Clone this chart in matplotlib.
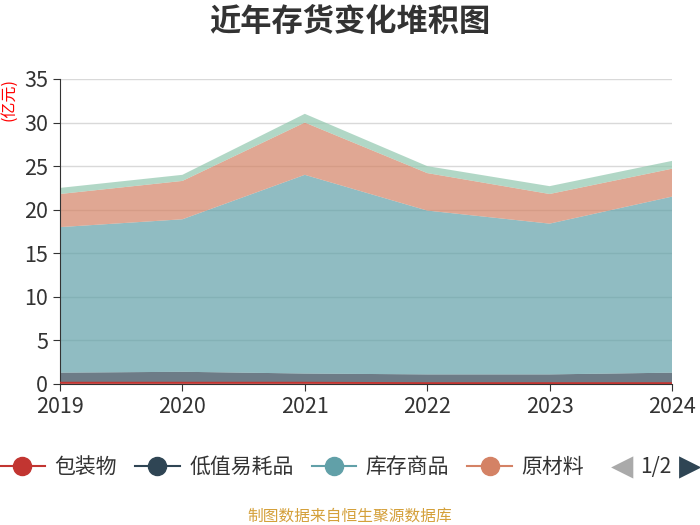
import matplotlib.pyplot as plt
from matplotlib.lines import Line2D

plt.rcParams['font.family'] = ['Noto Sans CJK SC', 'DejaVu Sans']

years = ['2019', '2020', '2021', '2022', '2023', '2024']
baozhuangwu = [0.15, 0.15, 0.15, 0.1, 0.1, 0.1]
dizhi = [1.15, 1.25, 1.05, 1.0, 1.0, 1.2]
kucun = [16.7, 17.5, 22.8, 18.8, 17.3, 20.2]
yuancailiao = [3.8, 4.4, 6.0, 4.3, 3.4, 3.2]
zaichanpin = [0.7, 0.7, 1.0, 0.8, 0.9, 0.9]

names = ['包装物', '低值易耗品', '库存商品', '原材料', '在产品']
colors = ['#c23531', '#2f4554', '#61a0a8', '#d48265', '#91c7ae']
series = [baozhuangwu, dizhi, kucun, yuancailiao, zaichanpin]

fig = plt.figure(figsize=(7, 5.25), dpi=100)
ax = fig.add_axes([0.0857, 0.2686, 0.8743, 0.581])

x = list(range(len(years)))
ax.stackplot(x, *series, colors=colors, alpha=0.7, linewidth=0, zorder=2)
# the thin bottom series shows as a red line
ax.plot(x, baozhuangwu, color='#c23531', linewidth=1.3, zorder=3)

ax.set_xlim(0, len(years) - 1)
ax.set_ylim(0, 35)
ax.set_yticks(range(0, 36, 5))
ax.set_xticks(x)
ax.set_xticklabels(years)
ax.grid(axis='y', color='#d9d9d9', linewidth=1, zorder=0)
ax.set_axisbelow(True)
for s in ['top', 'right']:
    ax.spines[s].set_visible(False)
ax.spines['left'].set_color('#333333')
ax.spines['bottom'].set_color('#333333')
ax.tick_params(axis='both', labelsize=15.5, colors='#333333', length=5)

fig.text(0.5, 0.958, '近年存货变化堆积图', ha='center', va='center',
         fontsize=22.5, fontweight='bold', color='#333333')
fig.text(0.012, 0.81, '(亿元)', rotation=90, ha='center', va='center',
         fontsize=11.5, color='red')

handles = [Line2D([0], [0], color=c, marker='o', markersize=13, linewidth=1.5)
           for c in colors[:4]]
fig.legend(handles, names[:4], loc='center left', bbox_to_anchor=(0.0, 0.1105),
           ncol=4, frameon=False, fontsize=15, handlelength=2.15,
           handletextpad=0.45, columnspacing=0.87, borderpad=0,
           borderaxespad=0, labelcolor='#333333')
fig.text(0.888, 0.1105, '◀', ha='center', va='center', fontsize=21,
         color='#aaaaaa', family='DejaVu Sans')
fig.text(0.937, 0.1105, '1/2', ha='center', va='center', fontsize=15,
         color='#333333')
fig.text(0.986, 0.1105, '▶', ha='center', va='center', fontsize=21,
         color='#2f4554', family='DejaVu Sans')

fig.text(0.5, 0.017, '制图数据来自恒生聚源数据库', ha='center', va='center',
         fontsize=11.3, color='#d4a03a')

fig.savefig('out.png', dpi=100)
